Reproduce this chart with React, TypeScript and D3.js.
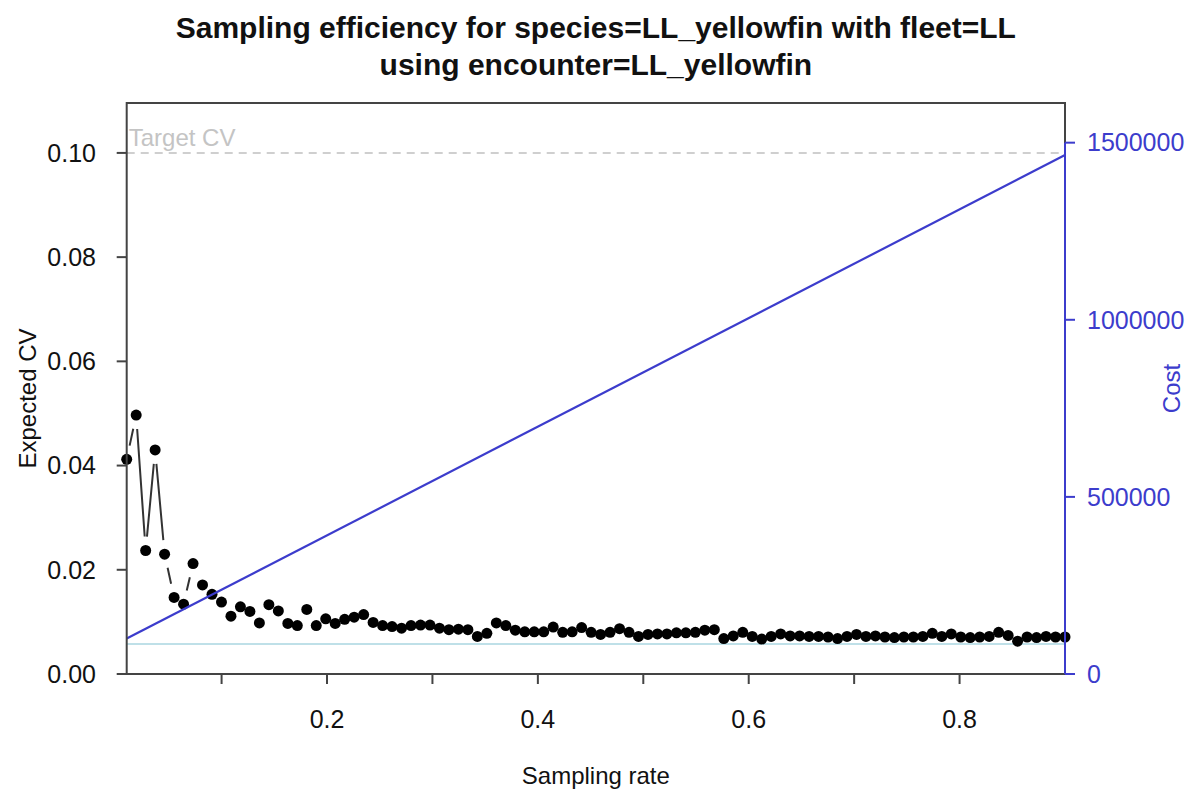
import React from "react";
import * as d3 from "d3";

const cvValues: number[] = [
  0.0412, 0.0497, 0.0237, 0.043, 0.023, 0.0147, 0.0134, 0.0212, 0.0171, 0.0153,
  0.0138, 0.0111, 0.0129, 0.012, 0.0098, 0.0133, 0.0121, 0.0097, 0.0093, 0.0124,
  0.0093, 0.0106, 0.0097, 0.0105, 0.0109, 0.0114, 0.0099, 0.0093, 0.0091, 0.0088,
  0.0093, 0.0094, 0.0094, 0.0088, 0.0085, 0.0086, 0.0085, 0.0072, 0.0078, 0.0098,
  0.0093, 0.0084, 0.0081, 0.0081, 0.0081, 0.009, 0.008, 0.0081, 0.0089, 0.008,
  0.0076, 0.008, 0.0087, 0.008, 0.0072, 0.0076, 0.0077, 0.0077, 0.0079, 0.0079,
  0.008, 0.0084, 0.0085, 0.0068, 0.0073, 0.008, 0.0072, 0.0067, 0.0072, 0.0077,
  0.0073, 0.0073, 0.0072, 0.0072, 0.0071, 0.0068, 0.0072, 0.0076, 0.0072, 0.0073,
  0.0071, 0.007, 0.0071, 0.0071, 0.0072, 0.0078, 0.0072, 0.0077, 0.0071, 0.007,
  0.0071, 0.0072, 0.008, 0.0074, 0.0063, 0.0071, 0.007, 0.0072, 0.0071, 0.0071,
];
const rateMin = 0.01;
const rateMax = 0.9;
const samplingRates: number[] = cvValues.map(
  (_, i) => rateMin + (i * (rateMax - rateMin)) / (cvValues.length - 1)
);
const costRates: number[] = [0.01, 0.9];
const costValues: number[] = [100000, 1465000];
const targetCV = 0.1;
const minCV = 0.00575;
const cvTicks: number[] = [0, 0.02, 0.04, 0.06, 0.08, 0.1];
const costTicks: number[] = [0, 500000, 1000000, 1500000];
const rateTicks: number[] = [0.1, 0.2, 0.3, 0.4, 0.5, 0.6, 0.7, 0.8];
const rateLabelTicks: number[] = [0.2, 0.4, 0.6, 0.8];
const titleLines: string[] = [
  "Sampling efficiency for species=LL_yellowfin with fleet=LL",
  "using encounter=LL_yellowfin",
];

const FONT = "'Liberation Sans', Arial, Helvetica, sans-serif";
const BLUE = "#3c3ccc";
const AXIS = "#444";
const TICK_FS = 25;
const LAB_FS = 24;

export default function App() {
  const left = 126.7, right = 1065, top = 103, bottom = 674;
  const x = d3.scaleLinear().domain([rateMin, rateMax]).range([left, right]);
  const yCV = d3.scaleLinear().domain([0, 0.10958]).range([bottom, top]);
  const yCost = d3.scaleLinear().domain([0, 1612000]).range([bottom, top]);

  const pts = samplingRates.map((r, i) => [x(r), yCV(cvValues[i])] as [number, number]);
  const gap = 14;
  const segs: string[] = [];
  for (let i = 0; i < pts.length - 1; i++) {
    const [x0, y0] = pts[i];
    const [x1, y1] = pts[i + 1];
    const dx = x1 - x0, dy = y1 - y0;
    const d = Math.hypot(dx, dy);
    if (d > 2 * gap) {
      const ux = dx / d, uy = dy / d;
      segs.push(`M${x0 + ux * gap},${y0 + uy * gap}L${x1 - ux * gap},${y1 - uy * gap}`);
    }
  }
  const costLine = d3
    .line<number>()
    .x((_, i) => x(costRates[i]))
    .y((v) => yCost(v))(costValues) as string;

  const fmtCV = d3.format(".2f");

  return (
    <svg
      width={1204}
      height={798}
      style={{ position: "fixed", left: 0, top: 0, background: "#fff" }}
      fontFamily={FONT}
    >
      <rect width={1204} height={798} fill="#fff" />
      {titleLines.map((t, i) => (
        <text
          key={i}
          x={(left + right) / 2}
          y={38 + i * 37}
          textAnchor="middle"
          fontWeight="bold"
          fontSize={30}
          fill="#111"
        >
          {t}
        </text>
      ))}

      {/* min CV line */}
      <line x1={left} x2={right} y1={yCV(minCV)} y2={yCV(minCV)} stroke="#bfe0e8" strokeWidth={2} />
      {/* target line */}
      <line
        x1={left}
        x2={right}
        y1={yCV(targetCV)}
        y2={yCV(targetCV)}
        stroke="#cfcfcf"
        strokeWidth={2}
        strokeDasharray="8,6"
      />
      <text x={left + 2} y={yCV(targetCV) - 7} fontSize={24} fill="#c4c4c4">
        Target CV
      </text>

      {/* connecting lines */}
      <path d={segs.join("")} stroke="#333" strokeWidth={2} fill="none" />
      {pts.map(([px, py], i) => (
        <circle key={i} cx={px} cy={py} r={5.5} fill="#000" />
      ))}

      {/* cost line */}
      <path d={costLine} stroke={BLUE} strokeWidth={2.2} fill="none" />

      {/* box */}
      <rect x={left} y={top} width={right - left} height={bottom - top} fill="none" stroke={AXIS} strokeWidth={2} />

      {/* left axis */}
      {cvTicks.map((t) => (
        <g key={t}>
          <line x1={left} x2={left - 10} y1={yCV(t)} y2={yCV(t)} stroke={AXIS} strokeWidth={2} />
          <text x={96} y={yCV(t)} dy="0.35em" textAnchor="end" fontSize={TICK_FS} fill="#111">
            {fmtCV(t)}
          </text>
        </g>
      ))}
      <text
        transform={`translate(28,${(top + bottom) / 2 + 10}) rotate(-90)`}
        textAnchor="middle"
        dy="0.35em"
        fontSize={LAB_FS}
        fill="#111"
      >
        Expected CV
      </text>

      {/* bottom axis */}
      {rateTicks.map((t) => (
        <line key={t} x1={x(t)} x2={x(t)} y1={bottom} y2={bottom + 10} stroke={AXIS} strokeWidth={2} />
      ))}
      {rateLabelTicks.map((t) => (
        <text key={t} x={x(t)} y={719} dy="0.35em" textAnchor="middle" fontSize={TICK_FS} fill="#111">
          {t.toFixed(1)}
        </text>
      ))}
      <text x={(left + right) / 2} y={776} dy="0.35em" textAnchor="middle" fontSize={LAB_FS} fill="#111">
        Sampling rate
      </text>

      {/* right axis */}
      <line x1={right} x2={right} y1={yCost(0)} y2={yCost(1500000)} stroke={BLUE} strokeWidth={2} />
      {costTicks.map((t) => (
        <g key={t}>
          <line x1={right} x2={right + 10} y1={yCost(t)} y2={yCost(t)} stroke={BLUE} strokeWidth={2} />
          <text x={1087} y={yCost(t)} dy="0.35em" fontSize={TICK_FS} fill={BLUE}>
            {String(t)}
          </text>
        </g>
      ))}
      <text
        transform={`translate(1172,${(top + bottom) / 2}) rotate(-90)`}
        textAnchor="middle"
        dy="0.35em"
        fontSize={LAB_FS}
        fill={BLUE}
      >
        Cost
      </text>
    </svg>
  );
}
